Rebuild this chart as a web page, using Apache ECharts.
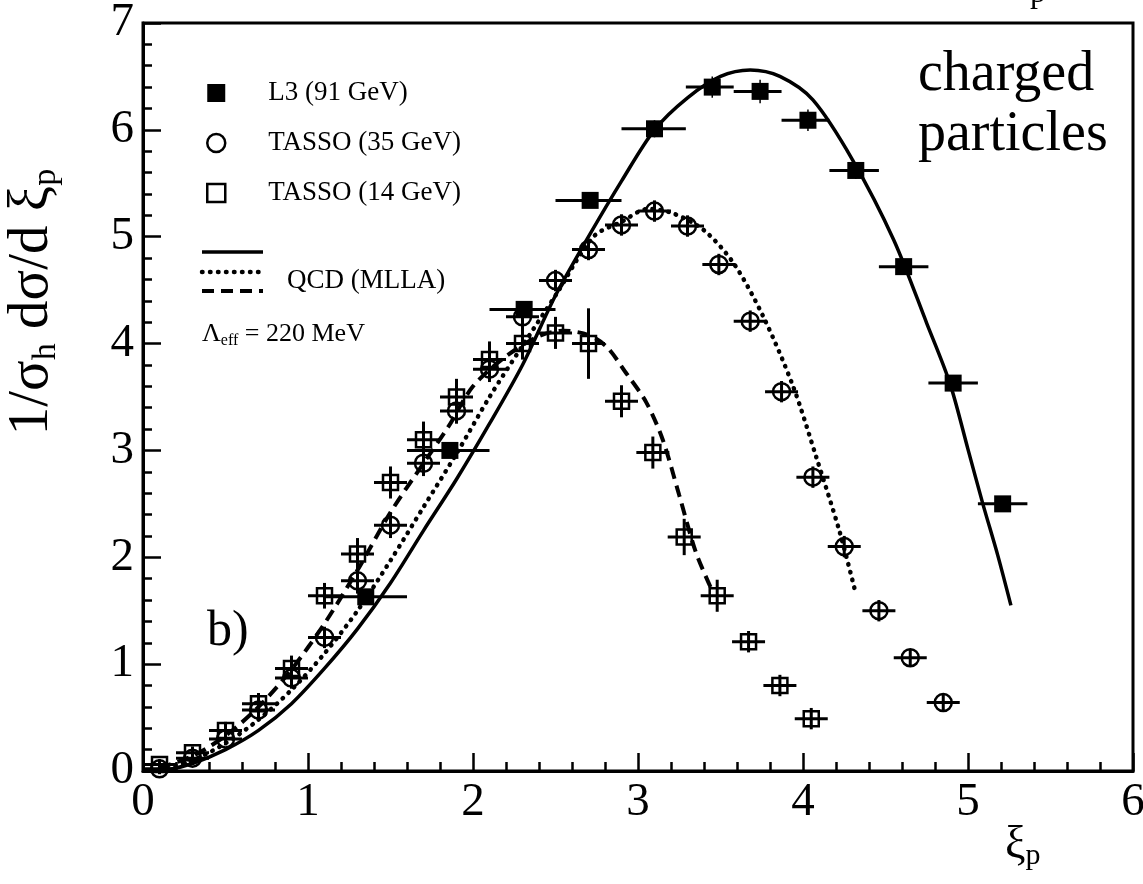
<!DOCTYPE html>
<html>
<head>
<meta charset="utf-8">
<script src="https://cdn.jsdelivr.net/npm/echarts@6/dist/echarts.min.js"></script>
<style>
  html, body { margin: 0; padding: 0; background: #fff; }
  #chart { width: 1143px; height: 884px; }
</style>
</head>
<body>
<div id="chart"></div>
<script>
const SERIF = '"Liberation Serif", "DejaVu Serif", serif'

// L3 (91 GeV) - filled squares, horizontal bars are the bins
const l3X = [1.35, 1.86, 2.31, 2.71, 3.10, 3.45, 3.74, 4.03, 4.32, 4.61, 4.91, 5.21]
const l3Y = [1.63, 3.00, 4.32, 5.34, 6.01, 6.40, 6.36, 6.09, 5.62, 4.72, 3.63, 2.50]
const l3XLo = [1.10, 1.60, 2.10, 2.50, 2.90, 3.29, 3.58, 3.87, 4.16, 4.46, 4.76, 5.06]
const l3XHi = [1.60, 2.10, 2.50, 2.90, 3.29, 3.58, 3.87, 4.16, 4.46, 4.76, 5.06, 5.36]
const l3YErr = [0.05, 0.05, 0.06, 0.06, 0.08, 0.10, 0.11, 0.10, 0.08, 0.06, 0.05, 0.05]

// TASSO (35 GeV) - open circles
const t35X = [0.1, 0.3, 0.5, 0.7, 0.9, 1.1, 1.3, 1.5, 1.7, 1.9, 2.1, 2.3, 2.5, 2.7, 2.9, 3.1, 3.3, 3.49, 3.68, 3.87, 4.06, 4.25, 4.46, 4.65, 4.85]
const t35Y = [0.02, 0.12, 0.30, 0.57, 0.87, 1.25, 1.78, 2.30, 2.88, 3.37, 3.76, 4.25, 4.59, 4.88, 5.11, 5.24, 5.10, 4.74, 4.21, 3.55, 2.75, 2.10, 1.50, 1.06, 0.64]
const t35YErr = [0.05, 0.05, 0.06, 0.08, 0.10, 0.10, 0.12, 0.12, 0.12, 0.12, 0.12, 0.12, 0.10, 0.10, 0.10, 0.10, 0.10, 0.10, 0.10, 0.10, 0.10, 0.10, 0.10, 0.08, 0.08]

// TASSO (14 GeV) - open squares
const t14X = [0.1, 0.3, 0.5, 0.7, 0.9, 1.1, 1.3, 1.5, 1.7, 1.9, 2.1, 2.3, 2.5, 2.7, 2.9, 3.09, 3.28, 3.48, 3.67, 3.86, 4.05]
const t14Y = [0.06, 0.17, 0.38, 0.63, 0.96, 1.64, 2.03, 2.70, 3.10, 3.50, 3.85, 4.00, 4.10, 4.00, 3.46, 2.98, 2.19, 1.64, 1.21, 0.80, 0.49]
const t14YErr = [0.05, 0.06, 0.08, 0.10, 0.12, 0.12, 0.15, 0.15, 0.17, 0.17, 0.17, 0.15, 0.15, 0.33, 0.15, 0.15, 0.17, 0.15, 0.10, 0.10, 0.10]

const tassoHalfBin = 0.1

// QCD (MLLA) curves
const qcdSolidX = [0.12, 0.3, 0.5, 0.7, 0.9, 1.1, 1.3, 1.5, 1.7, 1.9, 2.1, 2.3, 2.5, 2.7, 2.9, 3.1, 3.3, 3.5, 3.68, 3.86, 4.06, 4.3, 4.55, 4.75, 4.89, 5.0, 5.09, 5.18, 5.26]
const qcdSolidY = [0.0, 0.07, 0.20, 0.38, 0.63, 0.96, 1.33, 1.76, 2.25, 2.73, 3.25, 3.80, 4.45, 5.00, 5.52, 6.00, 6.30, 6.50, 6.56, 6.50, 6.28, 5.72, 4.97, 4.19, 3.63, 3.01, 2.50, 2.02, 1.55]

const qcdDotX = [0.1, 0.3, 0.5, 0.7, 0.9, 1.1, 1.3, 1.5, 1.7, 1.9, 2.1, 2.3, 2.5, 2.73, 2.9, 3.06, 3.21, 3.4, 3.58, 3.76, 3.94, 4.08, 4.22, 4.32]
const qcdDotY = [0.02, 0.10, 0.26, 0.48, 0.76, 1.10, 1.50, 1.97, 2.47, 2.97, 3.50, 3.98, 4.45, 5.00, 5.14, 5.26, 5.22, 5.06, 4.75, 4.25, 3.60, 2.94, 2.25, 1.66]

const qcdDashX = [0.1, 0.3, 0.5, 0.7, 0.9, 1.1, 1.3, 1.5, 1.7, 1.85, 2.0, 2.2, 2.4, 2.55, 2.7, 2.81, 2.93, 3.05, 3.15, 3.25, 3.35, 3.44]
const qcdDashY = [0.03, 0.14, 0.33, 0.60, 0.95, 1.38, 1.88, 2.42, 2.88, 3.22, 3.60, 3.88, 4.07, 4.12, 4.08, 3.97, 3.72, 3.45, 3.10, 2.58, 2.05, 1.72]

const xTicks = { min: 0, max: 6, interval: 1 }
const yTicks = { min: 0, max: 7, interval: 1 }

const zip = (xs, ys) => xs.map((x, i) => [x, ys[i]])

// rows: [x, y, xlo, xhi, ylo, yhi]
const barRows = (xs, ys, xlo, xhi, yerr) =>
    xs.map((x, i) => [x, ys[i], xlo[i], xhi[i], ys[i] - yerr[i], ys[i] + yerr[i]])

const errorBar = (hWidth, vWidth) => (params, api) => {
    const x = api.value(0)
    const y = api.value(1)
    const left = api.coord([api.value(2), y])
    const right = api.coord([api.value(3), y])
    const low = api.coord([x, api.value(4)])
    const high = api.coord([x, api.value(5)])
    return {
        type: 'group',
        children: [
            { type: 'line', shape: { x1: left[0], y1: left[1], x2: right[0], y2: right[1] }, style: { stroke: '#000', lineWidth: hWidth } },
            { type: 'line', shape: { x1: low[0], y1: low[1], x2: high[0], y2: high[1] }, style: { stroke: '#000', lineWidth: vWidth } }
        ]
    }
}

const emptyStyle = { color: 'rgba(0,0,0,0)', borderColor: '#000', borderWidth: 2.5, opacity: 1 }

const axisCommon = {
    type: 'value',
    axisLine: { lineStyle: { color: '#000', width: 3 } },
    axisTick: { inside: true, length: 18, lineStyle: { color: '#000', width: 2.5 } },
    minorTick: { show: true, splitNumber: 5, length: 9, lineStyle: { color: '#000', width: 2.5 } },
    splitLine: { show: false },
    minorSplitLine: { show: false }
}

const chart = echarts.init(document.getElementById('chart'), null, { renderer: 'canvas' })

const options = {
    animation: false,
    backgroundColor: '#fff',
    textStyle: { fontFamily: SERIF, color: '#000' },
    grid: {
        left: 143, right: 10, top: 23, bottom: 113,
        containLabel: false,
        outerBoundsMode: 'none',
        show: true, borderColor: '#000', borderWidth: 3
    },
    legend: {
        orient: 'vertical',
        left: 201, top: 72,
        itemWidth: 18, itemHeight: 18, itemGap: 18,
        selectedMode: false,
        textStyle: { fontFamily: SERIF, fontSize: 27, color: '#000', lineHeight: 32, padding: [0, 0, 0, 38] },
        data: [
            { name: 'L3 (91 GeV)', icon: 'rect', itemStyle: { color: '#000', borderWidth: 0, opacity: 1 } },
            { name: 'TASSO (35 GeV)', icon: 'circle', itemStyle: emptyStyle },
            { name: 'TASSO (14 GeV)', icon: 'rect', itemStyle: emptyStyle }
        ]
    },
    xAxis: Object.assign({}, axisCommon, xTicks, {
        axisLabel: { show: true, color: '#000', fontFamily: SERIF, fontSize: 47, margin: 8 }
    }),
    yAxis: Object.assign({}, axisCommon, yTicks, {
        axisLabel: { show: true, color: '#000', fontFamily: SERIF, fontSize: 47, margin: 9 },
        name: '1/σ{s|h} dσ/d ξ{s|p}',
        nameLocation: 'middle',
        nameGap: 80,
        nameMoveOverlap: false,
        nameTextStyle: {
            fontFamily: SERIF, fontSize: 57, color: '#000', lineHeight: 62,
            padding: [0, 0, 0, 190],
            rich: { s: { fontFamily: SERIF, fontSize: 34, lineHeight: 28, verticalAlign: 'bottom' } }
        }
    }),
    series: [
        {
            name: 'QCD solid', type: 'line', data: zip(qcdSolidX, qcdSolidY),
            showSymbol: false, smooth: 0.3, z: 2,
            lineStyle: { color: '#000', width: 3.5 }
        },
        {
            name: 'QCD dotted', type: 'line', data: zip(qcdDotX, qcdDotY),
            showSymbol: false, smooth: 0.3, z: 2,
            lineStyle: { color: '#000', width: 4.5, type: [0.5, 7.5], cap: 'round' }
        },
        {
            name: 'QCD dashed', type: 'line', data: zip(qcdDashX, qcdDashY),
            showSymbol: false, smooth: 0.3, z: 2,
            lineStyle: { color: '#000', width: 4, type: [12, 7] }
        },
        {
            name: 'L3 (91 GeV)', type: 'scatter', data: zip(l3X, l3Y),
            symbol: 'rect', symbolSize: 17, z: 3,
            itemStyle: { color: '#000', opacity: 1 }
        },
        {
            name: 'TASSO (35 GeV)', type: 'scatter', data: zip(t35X, t35Y),
            symbol: 'circle', symbolSize: 17, z: 3,
            itemStyle: emptyStyle
        },
        {
            name: 'TASSO (14 GeV)', type: 'scatter', data: zip(t14X, t14Y),
            symbol: 'rect', symbolSize: 15, z: 3,
            itemStyle: emptyStyle
        },
        {
            name: 'L3 bars', type: 'custom', z: 4,
            data: barRows(l3X, l3Y, l3XLo, l3XHi, l3YErr),
            encode: { x: 0, y: 1 },
            renderItem: errorBar(3, 1.5)
        },
        {
            name: 'TASSO 35 bars', type: 'custom', z: 4,
            data: barRows(t35X, t35Y, t35X.map(x => x - tassoHalfBin), t35X.map(x => x + tassoHalfBin), t35YErr),
            encode: { x: 0, y: 1 },
            renderItem: errorBar(3, 3)
        },
        {
            name: 'TASSO 14 bars', type: 'custom', z: 4,
            data: barRows(t14X, t14Y, t14X.map(x => x - tassoHalfBin), t14X.map(x => x + tassoHalfBin), t14YErr),
            encode: { x: 0, y: 1 },
            renderItem: errorBar(3, 3)
        }
    ],
    graphic: [
        // QCD legend lines
        { type: 'line', shape: { x1: 202, y1: 252, x2: 263, y2: 252 }, style: { stroke: '#000', lineWidth: 3.5 } },
        { type: 'line', shape: { x1: 202, y1: 272, x2: 263, y2: 272 }, style: { stroke: '#000', lineWidth: 4.5, lineDash: [0.5, 7.5], lineCap: 'round' } },
        { type: 'line', shape: { x1: 202, y1: 291, x2: 263, y2: 291 }, style: { stroke: '#000', lineWidth: 4, lineDash: [12, 7] } },
        { type: 'text', x: 287, y: 281, style: { text: 'QCD (MLLA)', font: '27px ' + SERIF, fill: '#000', verticalAlign: 'middle' } },
        {
            type: 'text', x: 202, y: 334,
            style: {
                text: '{a|Λ}{s|eff}{a| = 220 MeV}', fill: '#000', verticalAlign: 'middle',
                rich: {
                    a: { fontFamily: SERIF, fontSize: 26, lineHeight: 30 },
                    s: { fontFamily: SERIF, fontSize: 16, lineHeight: 16, verticalAlign: 'bottom' }
                }
            }
        },
        {
            type: 'text', x: 918, y: 45,
            style: { text: 'charged\nparticles', font: '56px ' + SERIF, lineHeight: 60, fill: '#000', verticalAlign: 'top' }
        },
        { type: 'text', x: 207, y: 632, style: { text: 'b)', font: '50px ' + SERIF, fill: '#000', verticalAlign: 'middle' } },
        {
            type: 'text', x: 1005, y: 846,
            style: {
                text: '{a|ξ}{s|p}', fill: '#000', verticalAlign: 'middle',
                rich: {
                    a: { fontFamily: SERIF, fontSize: 46, lineHeight: 50 },
                    s: { fontFamily: SERIF, fontSize: 30, lineHeight: 22, verticalAlign: 'bottom' }
                }
            }
        },
        { type: 'text', x: 1030, y: 10, style: { text: 'p', font: '32px ' + SERIF, fill: '#000', verticalAlign: 'bottom' } }
    ]
}

chart.setOption(options)
</script>
</body>
</html>
